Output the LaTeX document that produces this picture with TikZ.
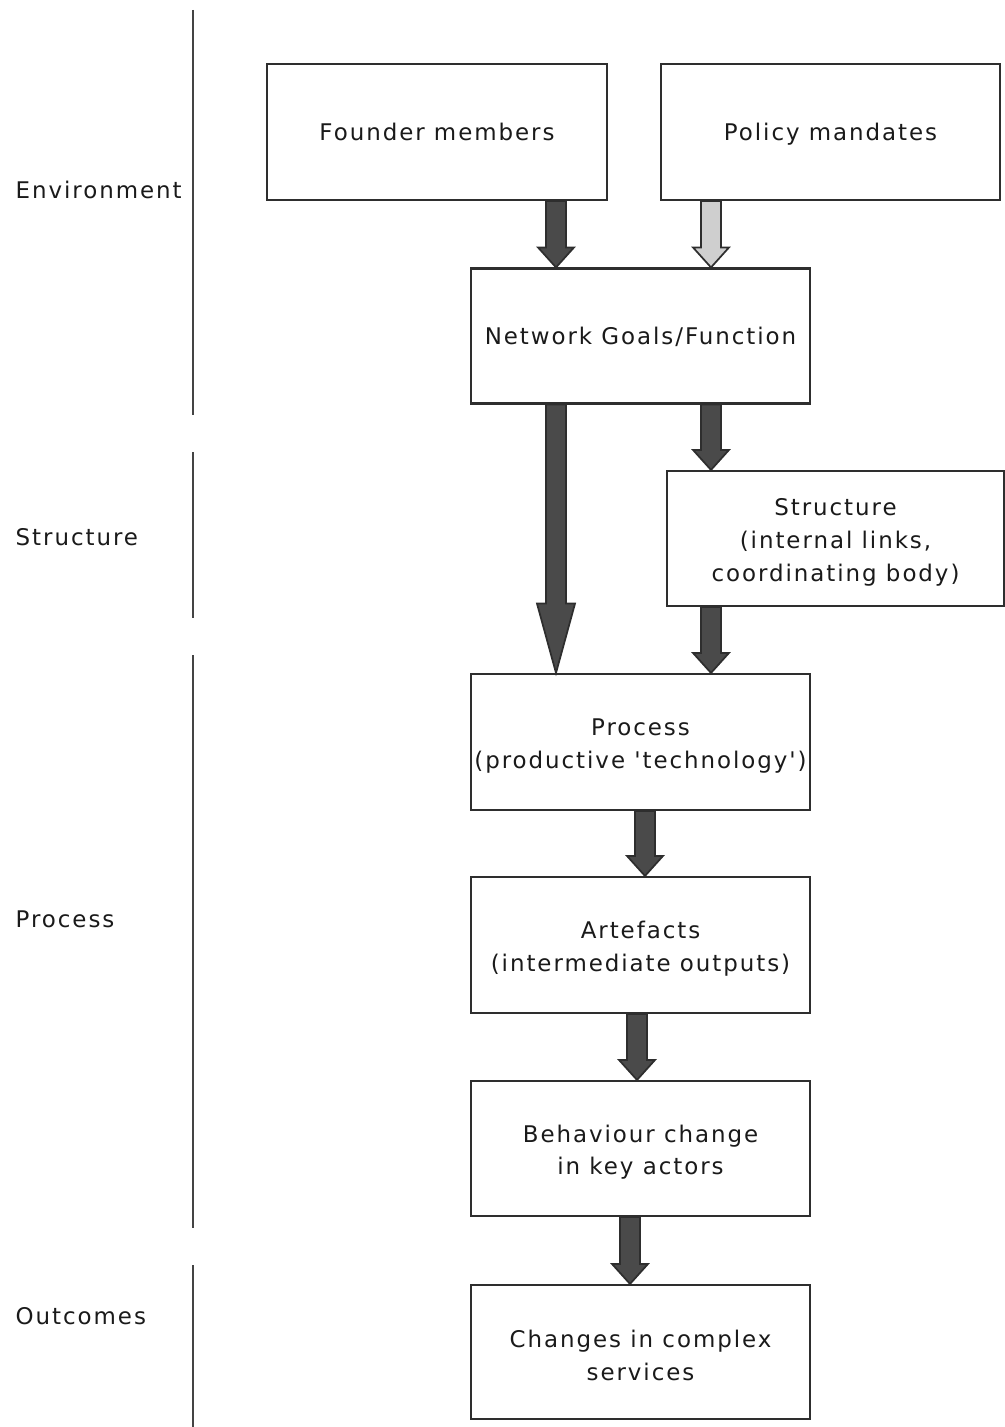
\documentclass[tikz,border=0pt]{standalone}
\usepackage{fontspec}
\setmainfont{DejaVu Sans}[LetterSpace=8.5, Ligatures=TeXOff]
\usetikzlibrary{calc}
\definecolor{edge}{HTML}{2E2E2E}
\definecolor{arrowdark}{HTML}{4A4A4A}
\definecolor{arrowlight}{HTML}{CFCFCF}
\definecolor{divider}{HTML}{444444}
\definecolor{ink}{HTML}{1A1A1A}
% strut on the first line that lowers the text block a little inside its box
\newcommand{\toplift}{\rule{0pt}{18.6pt}}
\begin{document}
\begin{tikzpicture}[x=0.75pt,y=-0.75pt,
  txt/.style={font=\fontsize{17.2}{24.5}\selectfont, text=ink},
  box/.style={txt, draw=edge, line width=1.6pt, fill=white, rectangle,
    align=center, inner sep=0pt, minimum width=#1*0.75pt},
  box/.default=339,
  single/.style={execute at begin node={\rule{0pt}{20.2pt}}},
  tall/.style={minimum height=#1*0.75pt},
  tall/.default=136,
  lane/.style={txt, anchor=west},
  divline/.style={draw=divider, line width=2.2pt},
  blockarrow/.style n args={3}{draw=edge, line width=1.3pt, line join=miter,
    to path={let \p1=(\tikztostart), \p2=(\tikztotarget) in
      (\x1-#1,\y1) -- (\x1-#1,\y2+#3) -- (\x1-#2,\y2+#3) -- (\x2,\y2)
      -- (\x1+#2,\y2+#3) -- (\x1+#1,\y2+#3) -- (\x1+#1,\y1) -- cycle}},
  flow/.style={blockarrow={7.5pt}{13.5pt}{15pt}, fill=arrowdark},
  flowlight/.style={blockarrow={7.5pt}{13.5pt}{15pt}, fill=arrowlight},
  longflow/.style={blockarrow={7.5pt}{14.25pt}{52pt}, fill=arrowdark},
]
\useasboundingbox (0,0) rectangle (1004,1427);

% stage dividers on the left
\draw[divline] (193,10) -- (193,415);
\draw[divline] (193,452) -- (193,618);
\draw[divline] (193,655) -- (193,1228);
\draw[divline] (193,1265) -- (193,1427);

% stage labels
\node[lane] (lenv)  at (11,192)  {Environment\strut};
\node[lane] (lstr)  at (11,539)  {Structure\strut};
\node[lane] (lproc) at (11,921)  {Process\strut};
\node[lane] (lout)  at (11,1318) {Outcomes\strut};

% boxes
\node[box=340, single, tall] (founder) at (437,132)   {Founder members\strut};
\node[box, single, tall]     (policy)  at (830.5,132) {Policy mandates\strut};
\node[box, single, tall=135] (goals)   at (640.5,336) {Network Goals/Function\strut};
\node[box=337, tall=135] (structure) at (835.5,538.5) {\toplift Structure\\(internal links,\\coordinating body)};
\node[box, tall]     (process)   at (640.5,742)  {\toplift Process\\(productive 'technology')};
\node[box, tall]     (artefacts) at (640.5,945)  {\toplift Artefacts\\(intermediate outputs)};
\node[box, tall=135] (behaviour) at (640.5,1148.5) {\toplift Behaviour change\\in key actors};
\node[box, tall=134] (changes)   at (640.5,1352) {\toplift Changes in complex\\services};

% columns of the block arrows
\coordinate (cA) at (556,0);
\coordinate (cB) at (711,0);
\coordinate (cC) at (645,0);
\coordinate (cD) at (637,0);
\coordinate (cE) at (630,0);

% block arrows
\draw[flow]      (founder.south -| cA)   to (goals.north -| cA);
\draw[flowlight] (policy.south -| cB)    to (goals.north -| cB);
\draw[longflow]  (goals.south -| cA)     to (process.north -| cA);
\draw[flow]      (goals.south -| cB)     to (structure.north -| cB);
\draw[flow]      (structure.south -| cB) to (process.north -| cB);
\draw[flow]      (process.south -| cC)   to (artefacts.north -| cC);
\draw[flow]      (artefacts.south -| cD) to (behaviour.north -| cD);
\draw[flow]      (behaviour.south -| cE) to (changes.north -| cE);
\end{tikzpicture}
\end{document}
